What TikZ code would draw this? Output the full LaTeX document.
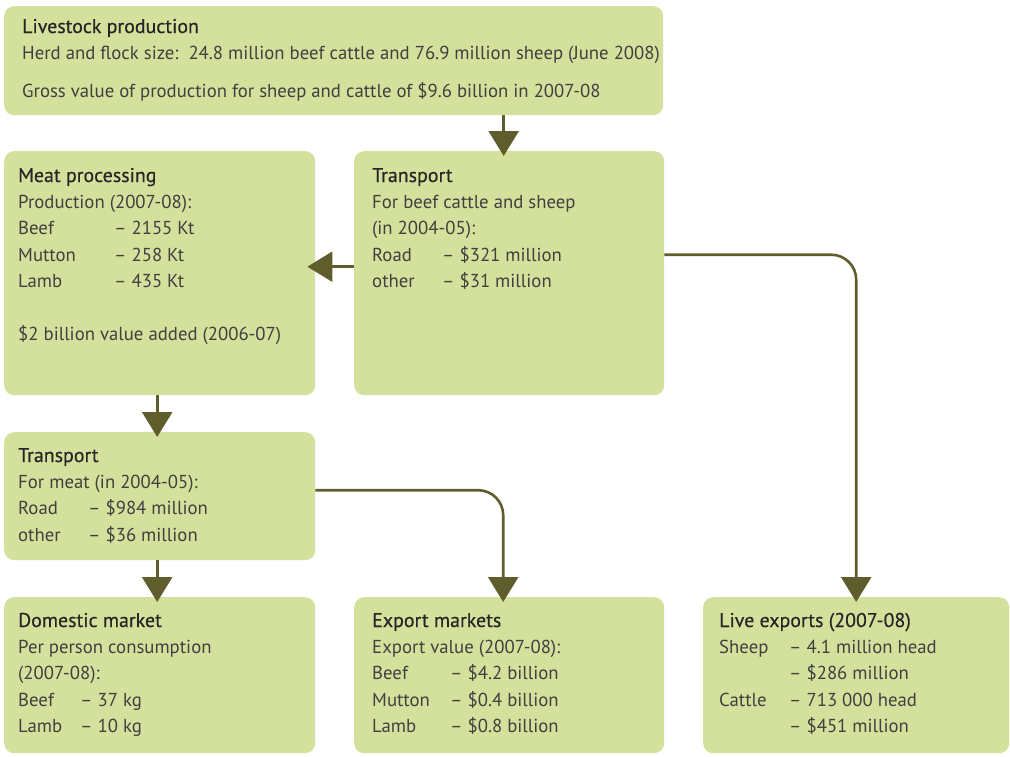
\documentclass[tikz,border=0pt]{standalone}
\usepackage{fontspec}
\setmainfont{PT Sans}
\newfontfamily\hdfont[FakeBold=0.4]{PT Sans}
\usetikzlibrary{arrows.meta,calc}
\definecolor{boxgreen}{HTML}{D3E19C}
\definecolor{arrolive}{HTML}{5F5D2B}
\definecolor{txtgrey}{HTML}{404040}
\newcommand{\hd}[1]{{\hdfont\fontsize{19.9}{26.4}\selectfont\color{black!85}#1}}
\newcommand{\colab}[2]{\makebox[#1pt][l]{#2}}

\begin{document}
\begin{tikzpicture}[x=1pt,y=-1pt,line join=round,
  box/.style={fill=boxgreen,rounded corners=10pt,anchor=north west,inner sep=0pt},
  txt/.style={anchor=base west,inner sep=0pt,text=txtgrey,font=\fontsize{18.75}{26.4}\selectfont},
  arr/.style={draw=arrolive,line width=2.6pt,-{Triangle[width=30pt,length=25pt]}}]
\useasboundingbox (0,0) rectangle (1010,756);
% boxes
\foreach \n/\x/\y/\w/\h in {lsp/4/6/659/109,meat/4/151/311/244,trA/354/151/310/244,trB/4/432/311/128,dom/4/597/311/156,exp/354/597/310/156,lex/703/597/306/156}
  \node[box,minimum width=\w,minimum height=\h] (\n) at (\x,\y) {};
% texts
\node[txt] (lspT) at (22,33) {\begin{tabular}[t]{@{}l@{}}\hd{Livestock production}\\
  Herd and flock size:\ \ 24.8 million beef cattle and 76.9 million sheep (June 2008)\\[11.6pt]
  Gross value of production for sheep and cattle of \$9.6 billion in 2007-08\end{tabular}};
\node[txt] (meatT) at (18,182) {\begin{tabular}[t]{@{}l@{}}\hd{Meat processing}\\
  Production (2007-08):\\ \colab{96}{Beef}-- 2155 Kt\\ \colab{96}{Mutton}-- 258 Kt\\
  \colab{96}{Lamb}-- 435 Kt\\ \\ \$2 billion value added (2006-07)\end{tabular}};
\node[txt] (trAT) at (372,182) {\begin{tabular}[t]{@{}l@{}}\hd{Transport}\\
  For beef cattle and sheep\\ (in 2004-05):\\ \colab{70}{Road}-- \$321 million\\
  \colab{70}{other}-- \$31 million\end{tabular}};
\node[txt] (trBT) at (18,462) {\begin{tabular}[t]{@{}l@{}}\hd{Transport}\\
  For meat (in 2004-05):\\ \colab{70}{Road}-- \$984 million\\
  \colab{70}{other}-- \$36 million\end{tabular}};
\node[txt] (domT) at (18,627) {\begin{tabular}[t]{@{}l@{}}\hd{Domestic market}\\
  Per person consumption\\ (2007-08):\\ \colab{62}{Beef}-- 37 kg\\
  \colab{62}{Lamb}-- 10 kg\end{tabular}};
\node[txt] (expT) at (372,627) {\begin{tabular}[t]{@{}l@{}}\hd{Export markets}\\
  Export value (2007-08):\\ \colab{78}{Beef}-- \$4.2 billion\\
  \colab{78}{Mutton}-- \$0.4 billion\\ \colab{78}{Lamb}-- \$0.8 billion\end{tabular}};
\node[txt] (lexT) at (719,627) {\begin{tabular}[t]{@{}l@{}}\hd{Live exports (2007-08)}\\
  \colab{70}{Sheep}-- 4.1 million head\\ \colab{70}{}-- \$286 million\\
  \colab{70}{Cattle}-- 713 000 head\\ \colab{70}{}-- \$451 million\end{tabular}};
% arrows
\draw[arr] ($(trA.north |- lsp.south)+(-5.5,0)$) -- ($(trA.north)+(-5.5,5)$);
\draw[arr] ($(trA.west)+(0,-6.5)$) -- ($(meat.east)+(-8,-6.5)$);
\draw[arr] ($(meat.south)+(-2.5,0)$) -- ($(trB.north)+(-2.5,5)$);
\draw[arr] ($(trB.south)+(-2.5,0)$) -- ($(dom.north)+(-2.5,5)$);
\draw[arr,rounded corners=25pt] ($(trA.east)+(0,-18.5)$) -| ($(lex.north)+(0,5)$);
\draw[arr,rounded corners=25pt] ($(trB.east)+(0,-6)$) -| ($(exp.north)+(-6,5)$);
\end{tikzpicture}
\end{document}
